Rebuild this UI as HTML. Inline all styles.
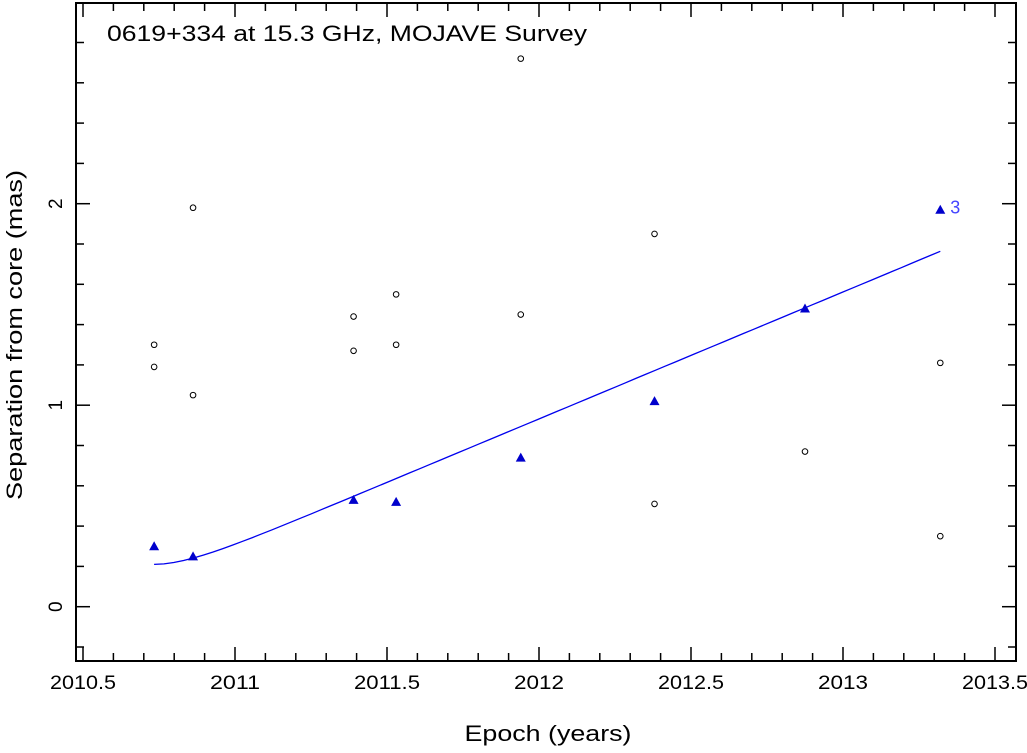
<!DOCTYPE html>
<html><head><meta charset="utf-8"><style>
html,body{margin:0;padding:0;background:#fff}
svg text{font-family:"Liberation Sans","DejaVu Sans",sans-serif;fill:#000}
</style></head><body>
<svg id="chart" width="1027" height="748" xmlns="http://www.w3.org/2000/svg">
<g id="ticks"></g>
<g id="marks"></g>
<rect x="76" y="3" width="940" height="658" fill="none" stroke="#000" stroke-width="2"/>
<text x="107" y="41" font-size="22" textLength="480" lengthAdjust="spacingAndGlyphs">0619+334 at 15.3 GHz, MOJAVE Survey</text>
<text x="548" y="741" font-size="22" text-anchor="middle" textLength="167" lengthAdjust="spacingAndGlyphs">Epoch (years)</text>
<text transform="translate(22,335) rotate(-90)" font-size="22" text-anchor="middle" textLength="330" lengthAdjust="spacingAndGlyphs">Separation from core (mas)</text>
</svg>
<script>
const triX=[2010.734,2010.862,2011.39,2011.53,2011.94,2012.38,2012.875,2013.32];
const triY=[0.30,0.25,0.53,0.52,0.74,1.02,1.48,1.97];
const circX=[2010.734,2010.734,2010.862,2010.862,2011.39,2011.39,2011.53,2011.53,2011.94,2011.94,2012.38,2012.38,2012.875,2013.32,2013.32];
const circY=[1.30,1.19,1.98,1.05,1.44,1.27,1.55,1.30,2.72,1.45,1.85,0.51,0.77,1.21,0.35];
const fitStart=[2010.734];
const fitEnd=[2013.32];
const fitParams=[0.21,0.63,0.12];
const xTickLabels=["2010.5","2011","2011.5","2012","2012.5","2013","2013.5"];
const yTickLabels=["0","1","2"];
const NS="http://www.w3.org/2000/svg";
const X=v=>83+(v-2010.5)*304;
const Y=v=>606.7-v*201.5;
const tg=document.getElementById('ticks'),mg=document.getElementById('marks');
function mk(t,a,p){const e=document.createElementNS(NS,t);for(const k in a)e.setAttribute(k,a[k]);p.appendChild(e);return e;}
for(let i=0;i<=30;i++){const v=2010.5+i*0.1;if(v>2013.57)break;const x=X(v);const maj=i%5==0;const L=maj?14:8;
 const a=mk('line',{x1:x,x2:x,y1:661,y2:661-L,stroke:'#000','stroke-width':1.5},tg);
 const b=mk('line',{x1:x,x2:x,y1:3,y2:3+L,stroke:'#000','stroke-width':1.5},tg);}
xTickLabels.forEach(s=>{const t=mk('text',{x:X(parseFloat(s)),y:689,'font-size':19,'text-anchor':'middle',textLength:s.length>4?66:50,lengthAdjust:'spacingAndGlyphs'},tg);t.textContent=s;});
for(let i=-1;i<=14;i++){const v=i*0.2;const y=Y(v);if(y>661||y<3)continue;const maj=i%5==0;const L=maj?14:8;
 const a=mk('line',{x1:76,x2:76+L,y1:y,y2:y,stroke:'#000','stroke-width':1.5},tg);
 const b=mk('line',{x1:1016,x2:1016-L,y1:y,y2:y,stroke:'#000','stroke-width':1.5},tg);}
yTickLabels.forEach(s=>{const y=Y(parseFloat(s));const t=mk('text',{transform:`translate(62,${y}) rotate(-90)`,'font-size':19,'text-anchor':'middle'},tg);t.textContent=s;});
let pts=[];for(let i=0;i<=80;i++){const v=fitStart[0]+(fitEnd[0]-fitStart[0])*i/80;const t=v-fitStart[0];const a=fitParams[0],vel=fitParams[1],tau=fitParams[2];
 pts.push(X(v).toFixed(1)+','+Y(a+vel*(t-tau*(1-Math.exp(-t/tau)))).toFixed(1));}
const fl=mk('polyline',{points:pts.join(' '),fill:'none',stroke:'#0000ee','stroke-width':1.3},mg);


circX.forEach((v,i)=>{const c=mk('circle',{cx:X(v),cy:Y(circY[i]),r:2.8,fill:'none',stroke:'#000','stroke-width':1},mg);

});
triX.forEach((v,i)=>{const x=X(v),y=Y(triY[i]);const p=mk('polygon',{points:`${x-5},${y+4} ${x+5},${y+4} ${x},${y-5}`,fill:'#0000cc'},mg);

});
const lb=mk('text',{x:X(triX[triX.length-1])+10,y:Y(triY[triY.length-1])+4,'font-size':18,style:'fill:#4444ff'},mg);
lb.textContent='3';


</script>
</body></html>
